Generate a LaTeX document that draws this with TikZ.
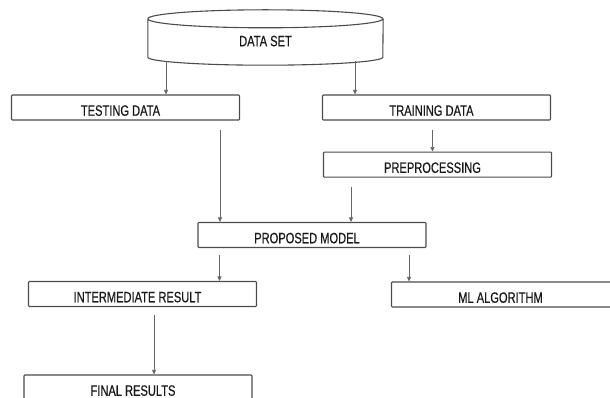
\documentclass[tikz,border=0pt]{standalone}
\usepackage{fontspec}
\setmainfont[FakeStretch=0.74,FakeBold=0.5]{Liberation Sans}
\usepackage{tikz}
\usetikzlibrary{positioning,arrows.meta}

\begin{document}
\begin{tikzpicture}[
  x=1pt, y=1pt,
  >={Triangle[length=4.5pt,width=4pt]},
  box/.style={draw=black!70, line width=1.1pt, rounded corners=0.8pt,
              minimum width=228pt, minimum height=25pt, inner sep=0pt,
              font=\fontsize{15}{17}\selectfont, text=black!90,
              text height=16.5pt, text depth=0pt,
              execute at begin node=\hspace*{-10pt}},
  link/.style={->, draw=black!60, line width=0.6pt},
  node distance=31pt
]
  \useasboundingbox (0,0) rectangle (610,-398);
  \clip (0,0) rectangle (610,-398);

  % data set cylinder
  \node[minimum width=235pt, minimum height=38pt, inner sep=0pt,
        font=\fontsize{15}{17}\selectfont, text=black!90,
        text height=16.5pt, text depth=0pt] (dataset) at (265.5,-38) {DATA SET};
  \draw[black!70, line width=1.1pt]
    (dataset.north west) arc[start angle=180, end angle=-180, x radius=117.5pt, y radius=9pt]
    (dataset.north west) -- (dataset.south west)
    arc[start angle=180, end angle=360, x radius=117.5pt, y radius=8pt]
    -- (dataset.north east);

  \node[box] (testing) at (125.5,-107.5) {TESTING DATA};
  \node[box] (training) at (436.5,-107.5) {TRAINING DATA};
  \node[box, below=31pt of training.south, anchor=north, xshift=1pt] (preproc) {PREPROCESSING};
  \node[box] (proposed) at (312,-235) {PROPOSED MODEL};
  \node[box] (inter) at (142.5,-294) {INTERMEDIATE RESULT};
  \node[box] (mlalgo) at (505.5,-294.5) {ML ALGORITHM};
  \node[box] (final) at (138,-387.5) {FINAL RESULTS};

  \draw[link, shorten <=4pt] ([xshift=40.5pt]testing.north |- dataset.south) -- ([xshift=40.5pt]testing.north);
  \draw[link, shorten <=4pt] ([xshift=-81.5pt]training.north |- dataset.south) -- ([xshift=-81.5pt]training.north);
  \draw[link, shorten <=9pt] ([xshift=-4pt]training.south) -- ([xshift=-5pt]preproc.north);
  \draw[link, shorten <=9pt] ([xshift=-92pt]proposed.north |- testing.south) -- ([xshift=-92pt]proposed.north);
  \draw[link, shorten <=9pt] ([xshift=39pt]proposed.north |- preproc.south) -- ([xshift=39pt]proposed.north);
  \draw[link, shorten <=7pt] ([xshift=77pt]inter.north |- proposed.south) -- ([xshift=77pt]inter.north);
  \draw[link, shorten <=7pt] ([xshift=-96.5pt]mlalgo.north |- proposed.south) -- ([xshift=-96.5pt]mlalgo.north);
  \draw[link, shorten <=8pt] ([xshift=16pt]final.north |- inter.south) -- ([xshift=16pt]final.north);
\end{tikzpicture}
\end{document}
